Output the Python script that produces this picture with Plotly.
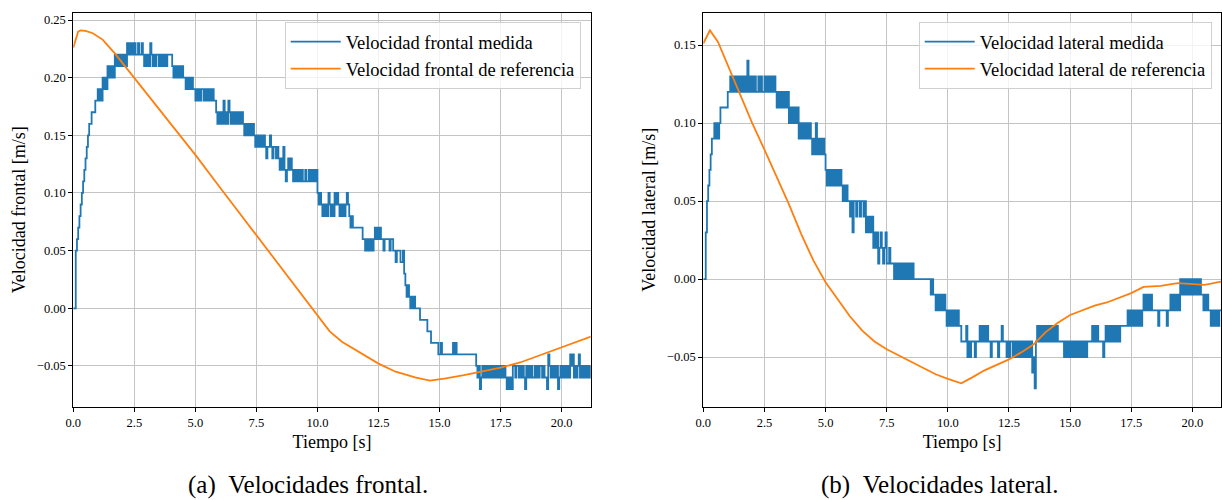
import numpy as np
import plotly.graph_objects as go

SERIF = "Liberation Serif, Times New Roman, serif"
W, H = 1222, 500
SAMPLE_STEP = 0.05  # seconds between measured samples

# Measured frontal speed, in hundredths of m/s, one row per second (20 samples)
frontal_medida_cm = [
    0, 0, 5, 6, 7, 8, 9, 10, 11, 12, 13, 14, 15, 16, 16, 17, 17, 17, 18, 18,
    19, 18, 19, 18, 20, 19, 20, 19, 21, 20, 21, 20, 21, 20, 22, 21, 22, 21, 22, 21,
    22, 21, 22, 21, 23, 22, 23, 22, 23, 22, 23, 22, 22, 23, 22, 22, 23, 22, 21, 22,
    21, 22, 21, 23, 22, 21, 22, 21, 22, 22, 21, 22, 21, 22, 21, 22, 21, 22, 22, 22,
    22, 21, 20, 21, 20, 21, 20, 21, 20, 21, 20, 20, 19, 20, 19, 20, 19, 20, 19, 19,
    18, 19, 18, 19, 18, 19, 19, 18, 19, 18, 19, 18, 19, 18, 19, 18, 18, 17, 16, 17,
    16, 17, 16, 18, 16, 17, 16, 18, 17, 16, 17, 16, 17, 16, 17, 16, 17, 16, 17, 16,
    15, 16, 15, 16, 15, 16, 15, 16, 15, 14, 15, 14, 15, 14, 15, 14, 15, 14, 13, 14,
    14, 15, 14, 13, 14, 14, 13, 14, 13, 12, 13, 12, 14, 12, 11, 12, 13, 12, 13, 12,
    11, 12, 11, 12, 11, 12, 11, 12, 11, 11, 12, 11, 11, 12, 11, 12, 11, 12, 11, 12,
    10, 9, 10, 9, 8, 9, 8, 9, 8, 10, 9, 8, 9, 8, 10, 9, 10, 9, 8, 9,
    8, 9, 8, 9, 10, 9, 8, 7, 8, 7, 7, 7, 7, 7, 7, 7, 7, 6, 6, 5,
    6, 5, 6, 5, 6, 5, 6, 7, 6, 7, 6, 7, 6, 6, 5, 6, 6, 6, 6, 5,
    6, 6, 5, 5, 4, 5, 5, 5, 4, 4, 5, 3, 2, 1, 2, 1, 0, 1, 0, 1,
    0, 0, 0, 0, -1, -1, -1, -1, -1, -1, -2, -2, -2, -3, -3, -3, -3, -3, -3, -4,
    -4, -3, -4, -4, -4, -4, -4, -4, -4, -4, -4, -3, -4, -3, -4, -4, -4, -4, -4, -4,
    -4, -4, -4, -4, -4, -4, -4, -4, -4, -4, -5, -6, -5, -7, -6, -5, -6, -5, -6, -5,
    -6, -5, -6, -5, -6, -5, -6, -5, -6, -5, -6, -5, -6, -5, -6, -7, -6, -7, -6, -7,
    -5, -5, -6, -5, -5, -6, -5, -6, -5, -6, -7, -5, -6, -5, -6, -5, -6, -6, -5, -6,
    -5, -6, -5, -5, -6, -5, -6, -6, -7, -4, -5, -6, -5, -6, -5, -6, -5, -7, -6, -5,
    -6, -5, -6, -5, -6, -5, -6, -4, -5, -4, -6, -5, -6, -5, -4, -6, -5, -6, -5, -6,
    -5, -6, -5, -6, -5,
]

# Measured lateral speed, in hundredths of m/s, one row per second (20 samples)
lateral_medida_cm = [
    0, 0, 3, 5, 6, 7, 8, 9, 9, 10, 9, 10, 9, 10, 11, 11, 11, 11, 11, 11,
    12, 12, 13, 12, 13, 12, 13, 12, 13, 12, 13, 12, 13, 12, 13, 12, 14, 12, 13, 12,
    13, 12, 13, 12, 12, 13, 12, 13, 12, 12, 13, 12, 13, 12, 13, 12, 13, 12, 13, 12,
    11, 12, 11, 12, 11, 12, 11, 12, 11, 12, 10, 11, 10, 11, 10, 11, 10, 11, 9, 10,
    9, 10, 9, 10, 9, 10, 9, 10, 9, 8, 9, 8, 10, 8, 9, 8, 9, 8, 9, 8,
    7, 6, 7, 6, 7, 6, 7, 6, 7, 6, 7, 6, 7, 6, 5, 6, 5, 6, 5, 5,
    4, 5, 3, 5, 5, 4, 5, 5, 4, 5, 5, 4, 5, 3, 4, 3, 4, 3, 4, 2,
    3, 2, 3, 1, 2, 3, 2, 1, 2, 3, 1, 1, 2, 1, 1, 1, 0, 1, 0, 1,
    0, 1, 0, 1, 0, 1, 0, 1, 0, 1, 0, 1, 0, 0, 0, 0, 0, 0, 0, 0,
    0, 0, 0, 0, 0, 0, -1, 0, -1, -1, -2, -1, -2, -1, -2, -1, -2, -1, -2, -3,
    -2, -3, -2, -3, -2, -3, -2, -3, -2, -3, -3, -4, -4, -4, -4, -3, -5, -4, -5, -4,
    -4, -4, -5, -4, -4, -4, -3, -4, -3, -4, -3, -4, -3, -4, -4, -5, -4, -4, -4, -4,
    -4, -5, -4, -4, -3, -4, -4, -4, -5, -4, -5, -4, -4, -5, -4, -5, -4, -5, -4, -5,
    -4, -5, -4, -5, -4, -5, -4, -5, -4, -6, -5, -7, -4, -3, -4, -3, -4, -3, -4, -3,
    -4, -3, -4, -3, -4, -3, -4, -3, -4, -3, -4, -4, -4, -4, -4, -5, -4, -5, -4, -5,
    -4, -5, -4, -5, -4, -5, -4, -5, -4, -5, -4, -5, -4, -5, -4, -4, -4, -4, -3, -4,
    -3, -4, -3, -4, -4, -4, -4, -5, -4, -3, -4, -3, -4, -3, -4, -3, -4, -3, -4, -3,
    -4, -3, -3, -3, -3, -3, -3, -2, -3, -2, -3, -2, -3, -2, -3, -2, -3, -2, -3, -2,
    -1, -2, -1, -2, -1, -2, -1, -2, -2, -2, -2, -2, -3, -2, -2, -2, -2, -2, -2, -3,
    -2, -2, -1, -2, -1, -2, -1, -2, -1, -2, 0, -1, 0, -1, 0, -1, 0, -1, 0, -1,
    0, -1, 0, -1, 0, -1, 0, -1, -1, -2, -1, -2, -1, -2, -2, -3, -2, -3, -2, -3,
    -2, -3, -2, -2, -2,
]

# Reference (smooth) curves
frontal_ref_t = [0.0, 0.1, 0.2, 0.3, 0.5, 0.8, 1.2, 1.7, 2.0, 2.5, 3.0, 4.0, 5.0, 6.0,
                 7.0, 7.5, 8.0, 8.5, 9.0, 9.5, 10.0, 10.5, 11.0, 12.0, 12.5,
                 13.2, 14.0, 14.6, 15.2, 16.0, 17.0, 17.5, 18.3, 19.4, 20.5, 21.2]
frontal_ref_v = [0.226, 0.234, 0.240, 0.241, 0.2405, 0.2385, 0.233, 0.221, 0.213,
                 0.2005, 0.187, 0.160, 0.133, 0.105, 0.077, 0.063, 0.049, 0.035,
                 0.021, 0.007, -0.0065, -0.020, -0.029, -0.042, -0.048, -0.055,
                 -0.060, -0.0627, -0.061, -0.058, -0.054, -0.0515, -0.047, -0.0385,
                 -0.030, -0.0245]

lateral_ref_t = [0.0, 0.27, 0.6, 1.0, 1.5, 2.0, 2.5, 3.0, 3.5, 4.0, 4.5, 5.0, 5.5,
                 6.0, 6.5, 7.0, 7.5, 8.0, 8.5, 9.0, 9.5, 10.0, 10.55, 11.0, 11.5,
                 12.0, 12.5, 13.0, 13.5, 14.0, 14.5, 15.0, 15.5, 16.0, 16.5, 17.0,
                 17.5, 18.0, 18.7, 19.4, 19.9, 20.5, 21.2]
lateral_ref_v = [0.151, 0.1595, 0.152, 0.137, 0.118, 0.100, 0.083, 0.066, 0.048,
                 0.029, 0.012, -0.002, -0.013, -0.024, -0.033, -0.040, -0.045,
                 -0.049, -0.053, -0.057, -0.061, -0.064, -0.0668, -0.063, -0.0585,
                 -0.055, -0.0515, -0.047, -0.042, -0.034, -0.028, -0.023, -0.020,
                 -0.017, -0.015, -0.012, -0.009, -0.005, -0.0043, -0.0026, -0.0030,
                 -0.0037, -0.0015]

x_ticks = [0.0, 2.5, 5.0, 7.5, 10.0, 12.5, 15.0, 17.5, 20.0]
y_ticks_frontal = [-0.05, 0.0, 0.05, 0.10, 0.15, 0.20, 0.25]
y_ticks_lateral = [-0.05, 0.0, 0.05, 0.10, 0.15]

legend_frontal = ["Velocidad frontal medida", "Velocidad frontal de referencia"]
legend_lateral = ["Velocidad lateral medida", "Velocidad lateral de referencia"]
captions = ["(a)&nbsp;&nbsp;Velocidades frontal.", "(b)&nbsp;&nbsp;Velocidades lateral."]

BLUE = "#1f77b4"
ORANGE = "#ff7f0e"

t_front = np.arange(len(frontal_medida_cm)) * SAMPLE_STEP
t_lat = np.arange(len(lateral_medida_cm)) * SAMPLE_STEP
v_front = np.array(frontal_medida_cm) / 100.0
v_lat = np.array(lateral_medida_cm) / 100.0

fig = go.Figure()
fig.add_trace(go.Scatter(x=t_front, y=v_front, mode="lines", name=legend_frontal[0],
                         line=dict(color=BLUE, width=1.8, shape="hv"),
                         xaxis="x", yaxis="y", legend="legend", legendgroup="a1"))
fig.add_trace(go.Scatter(x=frontal_ref_t, y=frontal_ref_v, mode="lines", name=legend_frontal[1],
                         line=dict(color=ORANGE, width=1.8, shape="linear"),
                         xaxis="x", yaxis="y", legend="legend", legendgroup="a2"))
fig.add_trace(go.Scatter(x=t_lat, y=v_lat, mode="lines", name=legend_lateral[0],
                         line=dict(color=BLUE, width=1.8, shape="hv"),
                         xaxis="x2", yaxis="y2", legend="legend2", legendgroup="b1"))
fig.add_trace(go.Scatter(x=lateral_ref_t, y=lateral_ref_v, mode="lines", name=legend_lateral[1],
                         line=dict(color=ORANGE, width=1.8, shape="linear"),
                         xaxis="x2", yaxis="y2", legend="legend2", legendgroup="b2"))

y_bottom = 1 - 407 / H
y_top = 1 - 12.5 / H

axis_common = dict(
    showline=True, mirror=True, linecolor="black", linewidth=1,
    ticks="outside", ticklen=4, tickwidth=1, tickcolor="black",
    showgrid=True, gridcolor="#c4c4c4", gridwidth=1, zeroline=False,
    tickfont=dict(family=SERIF, size=12.5, color="black"),
    automargin=False,
)

xtitle = dict(text="Tiempo [s]", font=dict(family=SERIF, size=18, color="black"), standoff=6)

legend_common = dict(
    yanchor="top", y=1 - 22.0 / H, xanchor="right",
    bgcolor="rgba(255,255,255,0.8)", bordercolor="#d0d0d0", borderwidth=1,
    font=dict(family=SERIF, size=18.5, color="black"), tracegroupgap=3,
    traceorder="normal", itemwidth=50,
)

fig.update_layout(
    width=W, height=H,
    margin=dict(l=0, r=0, t=0, b=0),
    paper_bgcolor="white", plot_bgcolor="white",
    xaxis=dict(domain=[73.3 / W, 590.7 / W], range=[0, 21.19], tickvals=x_ticks,
               tickformat=".1f", anchor="y", title=xtitle, **axis_common),
    yaxis=dict(domain=[y_bottom, y_top], range=[-0.0856, 0.2565], tickvals=y_ticks_frontal,
               tickformat=".2f", anchor="x",
               title=dict(text="Velocidad frontal [m/s]",
                          font=dict(family=SERIF, size=18, color="black"), standoff=6),
               **axis_common),
    xaxis2=dict(domain=[703.3 / W, 1221 / W], range=[0, 21.17], tickvals=x_ticks,
                tickformat=".1f", anchor="y2", title=xtitle, **axis_common),
    yaxis2=dict(domain=[y_bottom, y_top], range=[-0.082, 0.1709], tickvals=y_ticks_lateral,
                tickformat=".2f", anchor="x2",
                title=dict(text="Velocidad lateral [m/s]",
                           font=dict(family=SERIF, size=18, color="black"), standoff=6),
                **axis_common),
    legend=dict(x=580.7 / W, **legend_common),
    legend2=dict(x=1211.7 / W, **legend_common),
    showlegend=True,
)

fig.add_annotation(text=captions[0], x=308 / W, y=1 - 485 / H, xref="paper", yref="paper",
                   showarrow=False, xanchor="center", yanchor="middle",
                   font=dict(family=SERIF, size=25, color="black"))
fig.add_annotation(text=captions[1], x=939 / W, y=1 - 485 / H, xref="paper", yref="paper",
                   showarrow=False, xanchor="center", yanchor="middle",
                   font=dict(family=SERIF, size=25, color="black"))

fig.write_html("out.html")
